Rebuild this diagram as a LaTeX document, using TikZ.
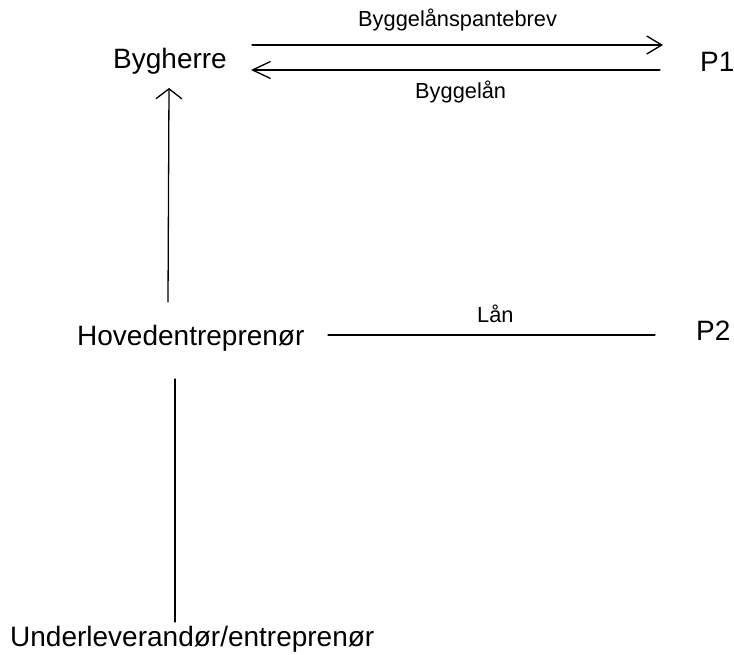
\documentclass[tikz,border=0pt]{standalone}
\usepackage{fontspec}
\setmainfont{Liberation Sans}
\usetikzlibrary{arrows.meta}
\begin{document}
\begin{tikzpicture}[x=1pt,y=-1pt,
  big/.style={font=\fontsize{28}{32}\selectfont, inner sep=0pt, anchor=base west},
  small/.style={font=\fontsize{21.8}{25}\selectfont, inner sep=0pt, anchor=base west},
  conn/.style={line width=1.3pt, line cap=round},
  tipR/.style={-{Straight Barb[length=15pt,width=18pt,line width=1.3pt]}},
  tipL/.style={-{Straight Barb[length=18pt,width=17pt,line width=1.3pt]}},
  tipU/.style={-{Straight Barb[length=10pt,width=26pt,line width=1.3pt]}}
]
\useasboundingbox[fill=white] (0,0) rectangle (734,655);
% nodes
\node[big] (bygherre) at (113,69) {Bygherre};
\node[big] (p1) at (700,72) {P1};
\node[big] (hoved) at (77,345) {Hovedentreprenør};
\node[big] (p2) at (696,340) {P2};
\node[big] (under) at (10,646) {Underleverandør/entreprenør};
\node[small] (lbltop) at (358,27) {Byggelånspantebrev};
\node[small] (lblbot) at (415,99) {Byggelån};
\node[small] (lbllan) at (477,322) {Lån};
% connector ends
\coordinate (bA) at (252,45);
\coordinate (pA) at (663,45);
\coordinate (pB) at (660,70);
\coordinate (bB) at (251,70);
\coordinate (hU) at (168,302);
\coordinate (bU) at (169,88);
\coordinate (hD) at (175,379);
\coordinate (uD) at (175,622);
\coordinate (hR) at (328,335);
\coordinate (pL) at (655,335);
% connectors
\draw[conn,tipR] (bA) -- (pA);
\draw[conn,tipL] (pB) -- (bB);
\draw[conn,tipU] (hU) -- (bU);
\draw[conn] (hD) -- (uD);
\draw[conn] (hR) -- (pL);
\end{tikzpicture}
\end{document}
